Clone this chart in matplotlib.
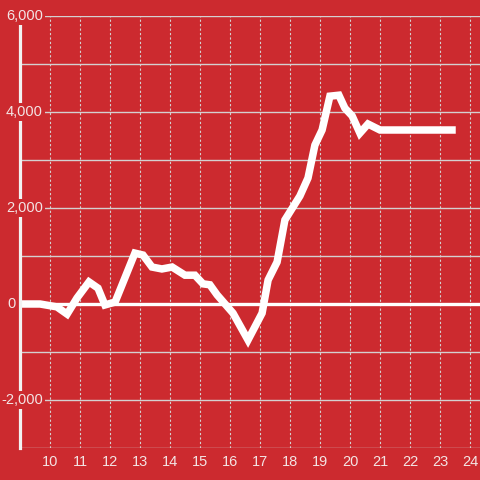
import matplotlib
matplotlib.use("Agg")
import matplotlib.pyplot as plt
import matplotlib.transforms as mtransforms

# data
hours = [9.0, 9.67, 10.23, 10.57, 10.9, 11.3, 11.6, 11.83, 12.17, 12.83,
         13.1, 13.4, 13.73, 14.07, 14.5, 14.83, 15.1, 15.33, 15.57, 16.1,
         16.6, 17.07, 17.27, 17.57, 17.83, 18.33, 18.6, 18.83, 19.07, 19.33,
         19.63, 19.83, 20.07, 20.33, 20.6, 21.0, 23.4]
values = [0, 0, -60, -210, 125, 460, 330, -20, 40, 1060,
          1020, 770, 730, 770, 600, 600, 420, 400, 190, -190,
          -750, -190, 500, 875, 1750, 2250, 2625, 3310, 3625, 4330,
          4350, 4080, 3920, 3560, 3750, 3625, 3625]
x_ticks = list(range(10, 25))
y_label_vals = [6000, 4000, 2000, 0, -2000]
y_grid_vals = list(range(-3000, 7000, 1000))

bg = "#cc2a2f"
txt = "#f3e4e4"
grid = "#d4d0d0"

plt.rcParams['font.family'] = ['Liberation Sans', 'DejaVu Sans']

fig = plt.figure(figsize=(4.8, 4.8), dpi=100, facecolor=bg)
ax = fig.add_axes([20/480, 32/480, 460/480, 432/480])
ax.set_facecolor(bg)
ax.set_xlim(9, 9 + 460/30)
ax.set_ylim(-3000, 6000)

for v in y_grid_vals:
    ax.axhline(v, color=grid, lw=1, zorder=1)
for h in x_ticks:
    ax.axvline(h, color=grid, lw=0.8, ls=(0, (2, 2)), zorder=1)
ax.axhline(0, color="white", lw=2.4, zorder=2)

ax.plot(hours, values, color="white", lw=5.4, solid_joinstyle="miter", zorder=3)

for s in ["top", "right", "bottom"]:
    ax.spines[s].set_visible(False)
ax.spines["left"].set_color("#f2f2f2")
ax.spines["left"].set_linewidth(2.3)
ax.spines["left"].set_zorder(4)

ax.set_xticks(x_ticks)
ax.set_xticklabels([str(t) for t in x_ticks])
ax.set_yticks([])
ax.tick_params(axis="x", length=0, pad=5, labelsize=10.5, labelcolor=txt)

trans = mtransforms.blended_transform_factory(ax.transAxes, ax.transData)
for v in y_label_vals:
    if v == 0:
        # the zero label sits left of the axis line
        ax.text(-4/460, v, "0", transform=trans, ha="right", va="center",
                fontsize=10.5, color=txt, zorder=5, clip_on=False)
    else:
        ax.text(23/460, v, f"{v:,}", transform=trans, ha="right", va="center",
                fontsize=10.5, color=txt, zorder=5, clip_on=False,
                bbox=dict(facecolor=bg, edgecolor="none", pad=1.5))

fig.savefig("out.png", dpi=100, facecolor=bg)
